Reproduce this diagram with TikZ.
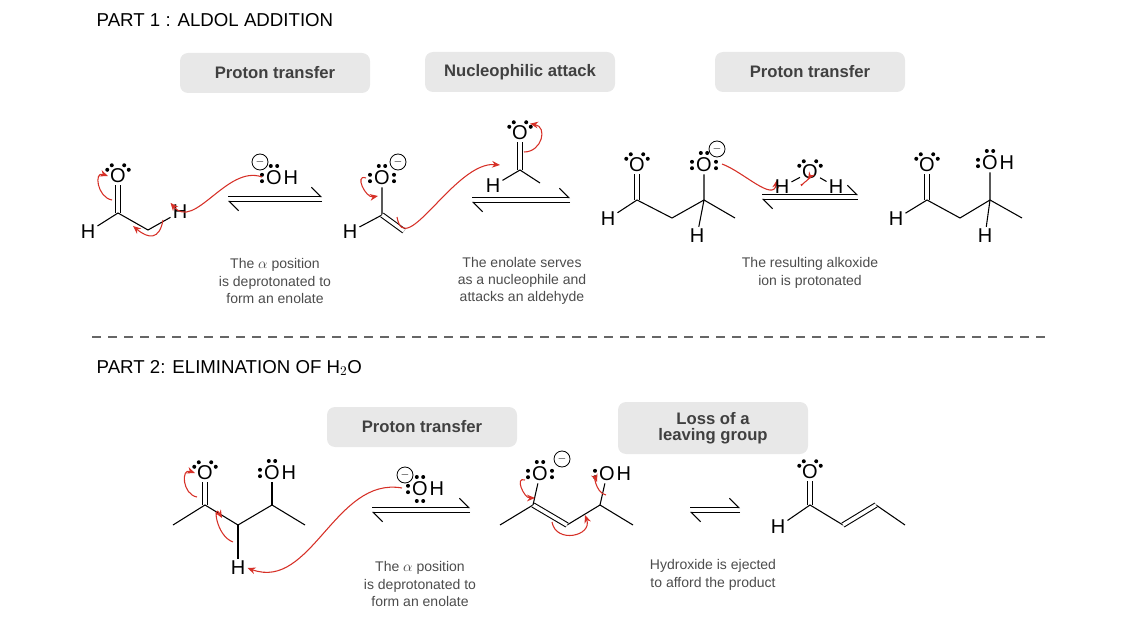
\documentclass[tikz,border=0pt]{standalone}
\usepackage{fontspec}
\setmainfont{Liberation Sans}
\usetikzlibrary{calc,positioning,arrows.meta}
\tikzset{
  atom/.style={inner sep=1.5pt, font=\fontsize{15}{15}\selectfont},
  bond/.style={line width=0.8pt},
  dbl/.style={line width=0.8pt, double, double distance=2.6pt},
  curly/.style={draw={rgb,255:red,214;green,48;blue,39}, line width=0.8pt, -{Stealth[length=6pt,width=5pt]}},
  chg/.style={circle, draw, line width=0.6pt, inner sep=0pt, minimum size=12pt, font=\footnotesize},
  steplbl/.style={fill=gray!18, rounded corners=6pt, minimum width=190*0.75pt, minimum height=40*0.75pt, font=\bfseries\fontsize{12.5}{14}\selectfont, text=black!75},
  captxt/.style={align=center, text=black!70, font=\fontsize{10.5}{13}\selectfont},
  headtxt/.style={anchor=west, font=\fontsize{14}{16}\selectfont}
}
% lone pair: node, angle (yscale is -1, so 270 is up)
\newcommand\lonepair[2]{\fill ($(#1)+(#2:12)+(#2+90:3.2)$) circle[radius=1.5pt] ($(#1)+(#2:12)+(#2-90:3.2)$) circle[radius=1.5pt];}
% equilibrium arrows
\newcommand\eqarr[3]{\draw[line width=0.8pt,-{Straight Barb[left,length=7pt]}] (#1,#3-2.5) -- (#2,#3-2.5);
  \draw[line width=0.8pt,-{Straight Barb[left,length=7pt]}] (#2,#3+2.5) -- (#1,#3+2.5);}
\begin{document}
\begin{tikzpicture}[x=0.75pt,y=0.75pt,yscale=-1,xscale=1]
\useasboundingbox (0,0) rectangle (1148,620);

% headings
\node[headtxt] (h1) at (92,20) {PART 1 : ALDOL ADDITION};
\node[headtxt] (h2) at (92,368) {PART 2: ELIMINATION OF H$_2$O};
\draw[line width=1pt, dash pattern=on 7pt off 5pt, gray!80!black] (92,337) -- (1048,337);

% step labels
\node[steplbl] (s1) at (275,73) {Proton transfer};
\node[steplbl] (s2) at (520,72) {Nucleophilic attack};
\node[steplbl] (s3) at (810,72) {Proton transfer};
\node[steplbl] (s4) at (422,427) {Proton transfer};
\node[steplbl, align=center, minimum height=52*0.75pt] (s5) at (713,428) {Loss of a\\[-2pt]leaving group};

% acetaldehyde
\node[atom] (o1) at (118,176) {O};
\coordinate (c1) at (118,213);
\node[atom] (h1a) at (88,232) {H};
\coordinate (c1b) at (148,230);
\node[atom] (h1b) at (180,212) {H};
\draw[dbl] (o1) -- (c1);
\draw[bond] (h1a) -- (c1) -- (c1b) -- (h1b);
\lonepair{o1}{225} \lonepair{o1}{315}
\draw[curly] (112,200) to[out=190,in=200,looseness=1.6] (o1.west);
\draw[curly] (163,220) to[out=100,in=40,looseness=1.7] (133,226);

% hydroxide
\node[atom] (oh1) at (274,178) {O};
\node[atom, right=-2pt of oh1] (oh1h) {H};
\node[chg] (m1) at (260,162) {$-$};
\lonepair{oh1}{180} \lonepair{oh1}{270}
\draw[curly] (262,177) to[out=200,in=50] (h1b.north west);
\eqarr{228}{322}{199}

% enolate
\node[atom] (o2) at (382,178) {O};
\node[chg] (m2) at (398,162) {$-$};
\coordinate (c2) at (382,215);
\node[atom] (h2a) at (350,232) {H};
\coordinate (c2b) at (404,231);
\draw[bond] (o2) -- (c2) -- (h2a);
\draw[dbl] (c2) -- (c2b);
\lonepair{o2}{180} \lonepair{o2}{270} \lonepair{o2}{0}
\draw[curly] (366,178) to[out=200,in=170,looseness=1.5] (378,196);
\draw[curly] (397,217) to[out=80,in=185] (500,165);

% aldehyde
\node[atom] (o3) at (520,133) {O};
\coordinate (c3) at (520,170);
\node[atom] (h3) at (493,186) {H};
\coordinate (c3b) at (540,183);
\draw[dbl] (o3) -- (c3);
\draw[bond] (h3) -- (c3) -- (c3b);
\lonepair{o3}{225} \lonepair{o3}{315}
\draw[curly] (524,152) to[out=0,in=10,looseness=1.6] (o3.north east);
\eqarr{472}{570}{200}

% alkoxide
\node[atom] (o4) at (637,165) {O};
\coordinate (c4) at (637,200);
\node[atom] (h4a) at (608,219) {H};
\coordinate (c4b) at (672,218);
\coordinate (c4c) at (704,200);
\node[atom] (o4b) at (704,165) {O};
\node[chg] (m4) at (717,149) {$-$};
\node[atom] (h4b) at (697,236) {H};
\coordinate (c4d) at (735,218);
\draw[dbl] (o4) -- (c4);
\draw[bond] (h4a) -- (c4) -- (c4b) -- (c4c) -- (c4d);
\draw[bond] (o4b) -- (c4c) -- (h4b);
\lonepair{o4}{225} \lonepair{o4}{315}
\lonepair{o4b}{180} \lonepair{o4b}{270} \lonepair{o4b}{0}
\draw[curly] (722,164) to[out=20,in=100] (777,180);

% water
\node[atom] (o5) at (810,172) {O};
\node[atom] (h5a) at (782,187) {H};
\node[atom] (h5b) at (836,187) {H};
\draw[bond] (h5a) -- (o5) -- (h5b);
\lonepair{o5}{225} \lonepair{o5}{315}
\draw[curly] (801,184) to[out=80,in=150,looseness=2] (805,182) to[out=-30,in=-60] (808,180);
\eqarr{762}{858}{197}

% aldol
\node[atom] (o6) at (927,165) {O};
\coordinate (c6) at (927,200);
\node[atom] (h6a) at (896,219) {H};
\coordinate (c6b) at (960,218);
\coordinate (c6c) at (990,200);
\node[atom] (o6b) at (990,163) {O};
\node[atom, right=-2pt of o6b] (o6h) {H};
\node[atom] (h6b) at (985,236) {H};
\coordinate (c6d) at (1022,218);
\draw[dbl] (o6) -- (c6);
\draw[bond] (h6a) -- (c6) -- (c6b) -- (c6c) -- (c6d);
\draw[bond] (o6b) -- (c6c) -- (h6b);
\lonepair{o6}{225} \lonepair{o6}{315}
\lonepair{o6b}{180} \lonepair{o6b}{270}

% captions part 1
\node[captxt] (t1) at (275,281) {The $\alpha$ position\\is deprotonated to\\form an enolate};
\node[captxt] (t2) at (522,281) {The enolate serves\\as a nucleophile and\\attacks an aldehyde};
\node[captxt] (t3) at (810,273) {The resulting alkoxide\\ion is protonated};

% part 2: aldol
\coordinate (c7a) at (173,525);
\coordinate (c7) at (205,505);
\node[atom] (o7) at (205,473) {O};
\coordinate (c7b) at (238,525);
\node[atom] (h7) at (238,568) {H};
\coordinate (c7c) at (272,505);
\node[atom] (o7b) at (272,473) {O};
\node[atom, right=-2pt of o7b] (o7h) {H};
\coordinate (c7d) at (305,525);
\draw[dbl] (o7) -- (c7);
\draw[bond] (c7a) -- (c7) -- (c7b) -- (c7c) -- (c7d);
\draw[bond] (c7b) -- (h7);
\draw[bond] (o7b) -- (c7c);
\lonepair{o7}{225} \lonepair{o7}{315}
\lonepair{o7b}{180} \lonepair{o7b}{270}
\draw[curly] (197,497) to[out=190,in=200,looseness=1.6] (o7.west);
\draw[curly] (233,542) to[out=200,in=240,looseness=1.8] (222,518);
\draw[curly] (402,488) to[out=190,in=20] (h7.east);

% hydroxide
\node[atom] (oh2) at (420,489) {O};
\node[atom, right=-2pt of oh2] (oh2h) {H};
\node[chg] (m5) at (405,475) {$-$};
\lonepair{oh2}{180} \lonepair{oh2}{270} \lonepair{oh2}{90}
\eqarr{372}{470}{510}

% enolate part 2
\coordinate (c8a) at (500,525);
\coordinate (c8) at (533,505);
\node[atom] (o8) at (540,474) {O};
\node[chg] (m8) at (562,459) {$-$};
\coordinate (c8b) at (567,525);
\coordinate (c8c) at (600,505);
\node[atom] (o8b) at (607,474) {O};
\node[atom, right=-2pt of o8b] (o8h) {H};
\coordinate (c8d) at (633,525);
\draw[bond] (c8a) -- (c8) (c8b) -- (c8c) -- (c8d);
\draw[dbl] (c8) -- (c8b);
\draw[bond] (o8) -- (c8) (o8b) -- (c8c);
\lonepair{o8}{180} \lonepair{o8}{270} \lonepair{o8}{0}
\lonepair{o8b}{180}
\draw[curly] (525,480) to[out=200,in=180,looseness=1.4] (535,498);
\draw[curly] (552,522) to[out=80,in=70,looseness=1.7] (585,515);
\draw[curly] (606,495) to[out=190,in=250,looseness=1.8] (597,482);
\eqarr{690}{740}{510}

% crotonaldehyde
\node[atom] (h9) at (778,527) {H};
\coordinate (c9) at (810,505);
\node[atom] (o9) at (810,472) {O};
\coordinate (c9b) at (843,525);
\coordinate (c9c) at (876,505);
\coordinate (c9d) at (905,525);
\draw[dbl] (o9) -- (c9);
\draw[bond] (h9) -- (c9) -- (c9b) (c9c) -- (c9d);
\draw[dbl] (c9b) -- (c9c);
\lonepair{o9}{225} \lonepair{o9}{315}

% captions part 2
\node[captxt] (t4) at (420,584) {The $\alpha$ position\\is deprotonated to\\form an enolate};
\node[captxt] (t5) at (713,575) {Hydroxide is ejected\\to afford the product};
\end{tikzpicture}
\end{document}
